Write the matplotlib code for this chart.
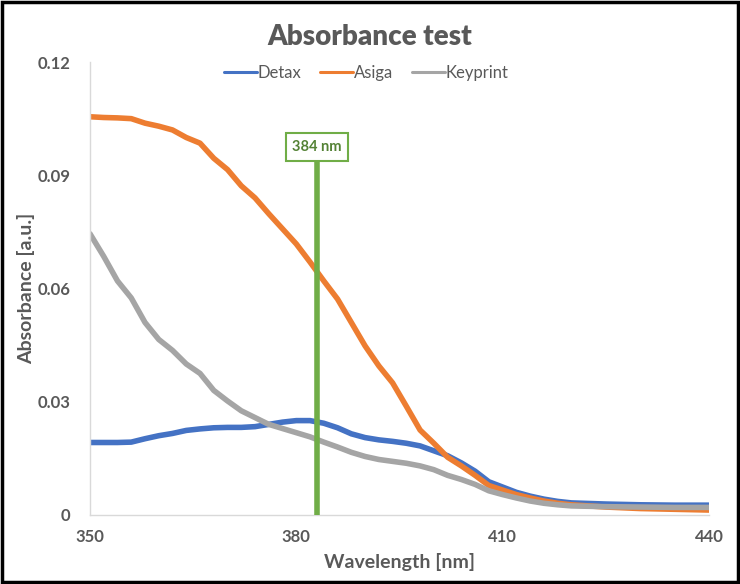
import matplotlib
matplotlib.use('Agg')
import matplotlib.pyplot as plt
from matplotlib.patches import Rectangle

plt.rcParams['font.family'] = ['Lato', 'DejaVu Sans']

# wavelength [nm]
wavelength = [350, 352, 354, 356, 358, 360, 362, 364, 366, 368, 370, 372, 374, 376, 378,
              380, 382, 384, 386, 388, 390, 392, 394, 396, 398, 400, 402, 404, 406, 408,
              410, 412, 414, 416, 418, 420, 425, 430, 435, 440]

detax = [0.0192, 0.0192, 0.0192, 0.0193, 0.0202, 0.0210, 0.0216, 0.0224, 0.0228, 0.0231,
         0.0232, 0.0232, 0.0234, 0.0240, 0.0246, 0.0250, 0.0250, 0.0243, 0.0231, 0.0215,
         0.0205, 0.0199, 0.0195, 0.0190, 0.0183, 0.0170, 0.0157, 0.0138, 0.0116, 0.0088,
         0.0074, 0.0060, 0.0050, 0.0042, 0.0036, 0.0032, 0.0029, 0.0027, 0.0026, 0.0026]

asiga = [0.1055, 0.1053, 0.1052, 0.1050, 0.1038, 0.1030, 0.1020, 0.1000, 0.0985, 0.0945,
         0.0915, 0.0872, 0.0840, 0.0798, 0.0758, 0.0718, 0.0670, 0.0620, 0.0572, 0.0510,
         0.0448, 0.0395, 0.0350, 0.0288, 0.0225, 0.0190, 0.0153, 0.0130, 0.0105, 0.0078,
         0.0066, 0.0054, 0.0045, 0.0037, 0.0031, 0.0027, 0.0021, 0.0017, 0.0015, 0.0013]

keyprint = [0.0745, 0.0685, 0.0620, 0.0575, 0.0510, 0.0465, 0.0436, 0.0400, 0.0375, 0.0330,
            0.0302, 0.0276, 0.0258, 0.0240, 0.0229, 0.0218, 0.0207, 0.0193, 0.0180, 0.0166,
            0.0155, 0.0147, 0.0142, 0.0137, 0.0130, 0.0120, 0.0105, 0.0094, 0.0081, 0.0064,
            0.0054, 0.0045, 0.0037, 0.0031, 0.0027, 0.0024, 0.0022, 0.0021, 0.0020, 0.0020]

marker_x = 383
marker_top = 0.0935
marker_label = '384 nm'

txt = '#595959'
fig = plt.figure(figsize=(7.4, 5.84), dpi=100)
ax = fig.add_axes([0.1216, 0.1182, 0.8364, 0.7756])

ax.plot(wavelength, detax, color='#4472C4', lw=4, label='Detax', solid_capstyle='round')
ax.plot(wavelength, asiga, color='#ED7D31', lw=4, label='Asiga', solid_capstyle='round')
ax.plot(wavelength, keyprint, color='#A5A5A5', lw=4, label='Keyprint', solid_capstyle='round')

ax.plot([marker_x, marker_x], [0, marker_top], color='#70AD47', lw=4, zorder=5)
ax.text(marker_x, marker_top + 0.004, marker_label, ha='center', va='center',
        fontsize=10.5, fontweight='bold', color='#548235', zorder=6,
        bbox=dict(boxstyle='square,pad=0.45', fc='white', ec='#70AD47', lw=1.5))

ax.set_xlim(350, 440)
ax.set_ylim(0, 0.12)
ax.set_xticks([350, 380, 410, 440])
ax.set_yticks([0, 0.03, 0.06, 0.09, 0.12])
ax.set_yticklabels(['0', '0.03', '0.06', '0.09', '0.12'])
ax.tick_params(length=0, labelsize=12, labelcolor=txt)
ax.tick_params(axis='x', pad=10)
ax.tick_params(axis='y', pad=14)
for lab in ax.get_xticklabels() + ax.get_yticklabels():
    lab.set_fontweight('bold')

for s in ['top', 'right']:
    ax.spines[s].set_visible(False)
for s in ['left', 'bottom']:
    ax.spines[s].set_color('#D9D9D9')
    ax.spines[s].set_linewidth(1)

ax.set_xlabel('Wavelength [nm]', fontsize=14, fontweight='bold', color=txt)
ax.set_ylabel('Absorbance [a.u.]', fontsize=14, fontweight='bold', color=txt)
ax.xaxis.set_label_coords(0.5, -0.083)
ax.yaxis.set_label_coords(-0.088, 0.5)
fig.text(0.5, 0.937, 'Absorbance test', ha='center', va='center',
         fontsize=20, fontweight='heavy', color=txt)

leg = ax.legend(loc='center', bbox_to_anchor=(0.446, 0.976), ncol=3, frameon=False,
                fontsize=12, handlelength=2.0, handletextpad=0.05, columnspacing=1.1)
for t in leg.get_texts():
    t.set_color(txt)
for h in leg.get_lines():
    h.set_linewidth(2.2)

fig.patches.append(Rectangle((0.003, 0.004), 0.994, 0.992, transform=fig.transFigure,
                             fill=False, ec='black', lw=2.5))

fig.savefig('out.png', dpi=100)
